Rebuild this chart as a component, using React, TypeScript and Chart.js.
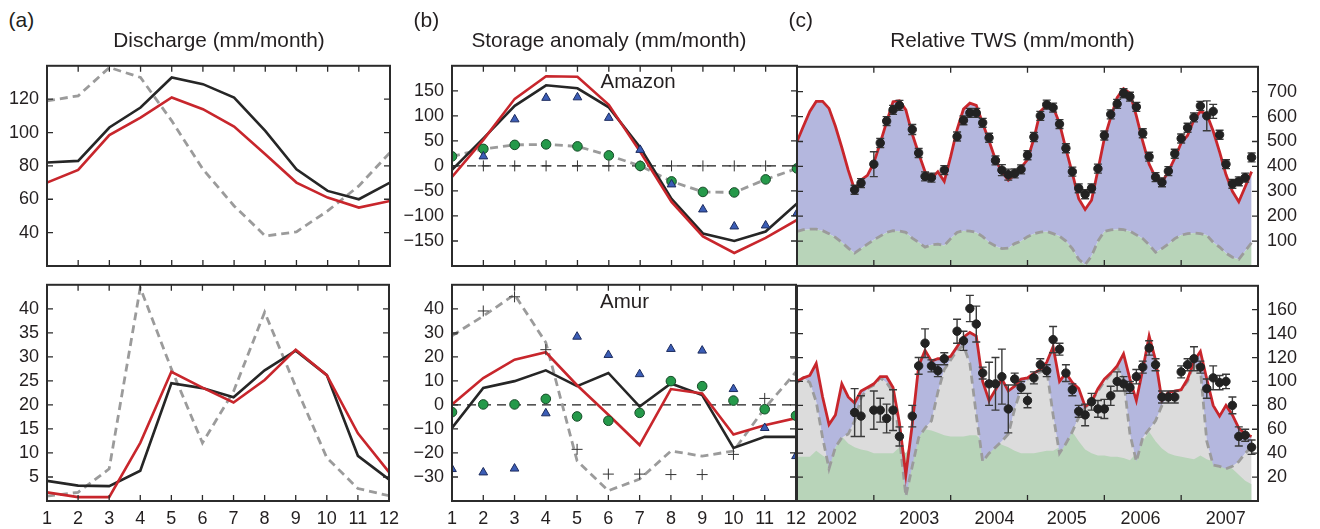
import React, { useEffect, useRef } from 'react';
import { Chart, registerables } from 'chart.js';

Chart.register(...registerables);

const FONT = "'Liberation Sans', Arial, Helvetica, sans-serif";
const TEXT = '#231f20';
const RED = '#c8262c';
const BLACK = '#262626';
const GRAY = '#9b9b9b';
const LAVENDER = '#b4b7de';
const GREEN_FILL = '#b8d4b9';
const LIGHT_GRAY = '#dcdcdc';
const TRI_FILL = '#3b5db6';
const TRI_EDGE = '#1d2c5e';
const CIRC_FILL = '#25994a';
const CIRC_EDGE = '#164a27';

// ---------- (a) Discharge, months 1..12 ----------
const MONTHS = [1, 2, 3, 4, 5, 6, 7, 8, 9, 10, 11, 12];
const AMAZON_Q_BLACK = [82, 83, 103, 115, 133, 129, 121, 101, 78, 65, 60, 70];
const AMAZON_Q_RED = [70, 77.6, 98.5, 109, 121, 114, 103.6, 87, 70, 61, 55, 59];
const AMAZON_Q_DASH = [119, 122, 139, 133, 107, 78, 56, 38, 40.5, 53, 68, 88];
const AMUR_Q_BLACK = [4.2, 3.2, 3.1, 6.3, 24.5, 23.5, 21.6, 27.2, 31.3, 26.2, 9.4, 4.5];
const AMUR_Q_RED = [1.8, 0.8, 0.8, 12.1, 26.9, 23.6, 20.5, 25.2, 31.5, 26.2, 14.1, 6.0];
const AMUR_Q_DASH = [1.0, 1.8, 6.7, 44.4, 27.5, 12.1, 22.8, 39.3, 23.8, 9.0, 2.6, 1.1];

// ---------- (b) Storage anomaly ----------
const AMAZON_S_BLACK = [-8, 55, 120, 161, 155, 117, 37, -66, -135, -150, -131, -75];
const AMAZON_S_RED = [-22, 52, 134, 179, 178, 122, 28, -72, -141, -174, -144, -108];
const AMAZON_S_DASH = [19, 34, 42, 43, 39, 21, 0, -31, -52, -53, -27, -5];
const AMAZON_S_CIRCLE = [19, 34, 42, 43, 39, 21, 0, -31, -52, -53, -27, -5];
const AMAZON_S_TRI = [null, 19, 93, 136, 137, 96, 32, -37, -87, -121, -119, -95];
const AMAZON_S_PLUS = [0, 0, 0, 0, 0, 0, 0, 0, 0, 0, 0, 0];
const AMUR_S_BLACK = [-9.6, 7.1, 9.9, 14.4, 7.8, 13.3, -0.7, 8.9, 4.1, -17.9, -13.3, -13.3];
const AMUR_S_RED = [0.2, 11.2, 18.8, 21.9, 8.2, -4.1, -16.7, 6.6, 4.8, -12.3, -8.5, -5.5];
const AMUR_S_DASH = [28.8, 37, 45.9, 26, -23.3, -35.7, -30.9, -19.2, -21.3, -19.2, -1.4, 13.7];
const AMUR_S_CIRCLE = [-3, 0.2, 0.2, 2.5, -4.8, -6.6, -3.3, 9.9, 7.8, 1.8, -1.8, -4.5];
const AMUR_S_TRI = [-26.7, -28.1, -26.5, -3.5, 28.4, 20.8, 12.8, 23.3, 22.6, 6.6, -9.6, -21.3];
const AMUR_S_PLUS = [29.5, 39.1, 45, 23, -18.5, -28.8, -28.8, -29, -29, -20.6, 2.7, 19.5];
const ZERO_REF = 0;

// ---------- (c) Relative TWS, monthly Jan 2002 .. Dec 2007 ----------
const START_YEAR = 2002;
const YEAR_TICKS = [2002, 2003, 2004, 2005, 2006, 2007, 2008];
const YEAR_LABELS = ['2002', '2003', '2004', '2005', '2006', '2007'];
const YEAR_LABEL_POS = [2002.52, 2003.59, 2004.57, 2005.51, 2006.47, 2007.58];

const AMAZON_TWS_RED = [
  500, 561, 621, 661, 661, 633, 561, 476, 385, 306, 345, 364,
  415, 494, 579, 660, 664, 627, 530, 452, 379, 352, 379, 340,
  439, 548, 630, 654, 645, 573, 502, 427, 379, 345, 367, 395,
  427, 512, 621, 645, 639, 573, 470, 373, 270, 227, 264, 385,
  512, 597, 676, 712, 694, 603, 500, 409, 355, 336, 379, 433,
  494, 524, 587, 621, 609, 542, 458, 367, 300, 258, 318, 379,
];
const AMAZON_TWS_DASH = [
  139, 146, 148, 148, 142, 130, 115, 95, 72, 52, 70, 88,
  105, 120, 135, 142, 140, 135, 112, 95, 76, 85, 88, 82,
  110, 135, 142, 140, 135, 118, 95, 80, 70, 72, 90, 100,
  118, 130, 136, 139, 130, 120, 100, 70, 27, 5, 40, 100,
  139, 145, 148, 146, 140, 125, 110, 85, 55, 70, 88, 110,
  124, 130, 133, 130, 124, 95, 76, 52, 35, 27, 60, 94,
];
const AMAZON_TWS_OBS = [
  null, null, null, null, null, null, null, null, null, 306, 333, null,
  409, 494, 582, 627, 645, null, 548, 454, 360, 355, null, 385,
  null, 520, 585, 615, 615, 575, 515, 424, 385, 367, 372, 388,
  445, 518, 603, 648, 636, 570, 473, 379, 312, 288, 312, 391,
  524, 609, 651, 694, 680, 639, 533, 439, 357, 336, 381, 451,
  512, 555, 597, 643, 603, 621, 527, 409, 330, 340, 355, 436,
];
const AMAZON_TWS_ERR = [
  null, null, null, null, null, null, null, null, null, 18, 18, null,
  50, 18, 18, 18, 20, null, 20, 18, 18, 18, null, 18,
  null, 18, 18, 18, 18, 18, 18, 18, 22, 22, 18, 18,
  18, 18, 18, 18, 18, 18, 18, 18, 18, 18, 18, 18,
  18, 18, 18, 18, 18, 18, 18, 18, 18, 18, 18, 18,
  18, 18, 18, 18, 60, 28, 18, 18, 18, 18, 18, 18,
];

const AMUR_TWS_RED = [
  100, 103, 105, 115, 87, 64, 72, 98, 87, 82, 92, 95,
  98, 104, 104, 95, 65, 22, 64, 113, 126, 117, 119, 119,
  121, 129, 137, 141, 138, 100, 84, 93, 102, 92, 96, 102,
  103, 107, 110, 116, 129, 100, 107, 99, 94, 79, 83, 94,
  102, 107, 113, 123, 102, 84, 110, 138, 118, 84, 91, 92,
  93, 102, 117, 125, 102, 80, 71, 80, 72, 61, 56, 54,
];
const AMUR_TWS_DASH = [
  99, 103, 99, 83, 53, 27, 45, 53, 56, 67, 86, 94,
  97, 103, 99, 91, 53, 4, 29, 53, 61, 67, 91, 110,
  118, 126, 130, 115, 72, 33, 40, 45, 50, 56, 77, 94,
  102, 106, 108, 110, 72, 40, 48, 58, 70, 78, 83, 92,
  100, 106, 112, 102, 56, 33, 53, 60, 67, 80, 88, 92,
  93, 100, 115, 110, 50, 30, 29, 27, 29, 33, 40, 45,
];
const AMUR_TWS_GREEN = [
  37, 37, 37, 42, 38, 35, 45, 54, 48, 45, 43, 42,
  40, 40, 40, 40, 45, 40, 50, 58, 60, 59, 57, 55,
  54, 54, 54, 55, 55, 50, 52, 50, 47, 45, 42, 40,
  40, 40, 41, 42, 42, 45, 52, 58, 50, 43, 40, 38,
  38, 37, 37, 36, 34, 40, 50, 58, 50, 44, 40, 38,
  37, 36, 35, 38, 35, 33, 33, 32, 27, 22, 17, 14,
];
const AMUR_TWS_OBS = [
  null, null, null, null, null, null, null, null, null, 74, 71, null,
  76, 76, 69, 76, 54, null, 71, 113, 132, 113, 109, 119,
  null, 142, 134, 161, 148, 107, 98, 98, 104, 77, 102, 95,
  84, 103, 114, 109, 135, 127, 107, 93, 75, 72, 83, 77,
  77, 88, 100, 98, 95, 104, 112, 128, 114, 87, 87, 87,
  108, 114, 119, 112, 94, 103, 99, 100, 80, 54, 55, 45,
];
const AMUR_TWS_ERR = [
  null, null, null, null, null, null, null, null, null, 20, 17, null,
  16, 10, 12, 17, 8, null, 9, 7, 12, 5, 5, 5,
  null, 10, 8, 11, 15, 5, 18, 22, 23, 20, 5, 5,
  6, 5, 5, 5, 11, 5, 7, 5, 5, 9, 7, 7,
  8, 8, 8, 6, 5, 6, 5, 6, 5, 5, 5, 5,
  5, 5, 10, 5, 8, 10, 6, 6, 7, 8, 5, 6,
];

const TIME = AMAZON_TWS_RED.map((_, i) => START_YEAR + i / 12);

// ---------- helpers ----------
const pts = (xs: number[], ys: (number | null)[]) => xs.map((x, i) => ({ x, y: ys[i] }));

function lineDs(xs: number[], ys: (number | null)[], color: string, order: number, extra: any = {}) {
  return {
    data: pts(xs, ys),
    borderColor: color,
    backgroundColor: color,
    borderWidth: 2.6,
    pointRadius: 0,
    tension: 0,
    fill: false,
    order,
    ...extra,
  };
}
function dashDs(xs: number[], ys: (number | null)[], order: number) {
  return lineDs(xs, ys, GRAY, order, { borderDash: [8, 5], borderWidth: 2.8 });
}
function markerDs(xs: number[], ys: (number | null)[], style: string, fillC: string, edgeC: string, radius: number, order: number) {
  return {
    data: pts(xs, ys),
    showLine: false,
    pointStyle: style,
    pointRadius: radius,
    pointBackgroundColor: fillC,
    pointBorderColor: edgeC,
    pointBorderWidth: 1,
    borderColor: edgeC,
    backgroundColor: fillC,
    fill: false,
    order,
  };
}
function fillDs(xs: number[], ys: (number | null)[], color: string, fill: any, order: number) {
  return {
    data: pts(xs, ys),
    borderWidth: 0,
    borderColor: 'rgba(0,0,0,0)',
    backgroundColor: color,
    pointRadius: 0,
    tension: 0,
    fill,
    order,
  };
}

type ErrSpec = { dsIndex: number; xs: number[]; vals: (number | null)[]; errs: (number | null)[] };

type PanelSpec = {
  key: string;
  left: number;
  top: number;
  width: number;
  height: number;
  yRight?: boolean;
  xLabels?: boolean;
  xMin: number;
  xMax: number;
  xTickVals: number[];
  xLabelPos?: number[];
  xLabelText?: string[];
  yMin: number;
  yMax: number;
  yStep: number;
  yShowMin: number;
  yShowMax: number;
  datasets: any[];
  zeroLine?: boolean;
  err?: ErrSpec;
};

const fmt = (v: number) => (v < 0 ? '\u2212' + Math.abs(v) : String(v));

function buildConfig(p: PanelSpec, mL: number, mR: number, mT: number, mB: number) {
  const tickFont = { family: FONT, size: 18 };
  const TL = 6;
  const plugin = {
    id: 'deco_' + p.key,
    beforeDatasetsDraw(chart: any) {
      if (!p.zeroLine) return;
      const { ctx, chartArea: a, scales } = chart;
      const y0 = scales.y.getPixelForValue(ZERO_REF);
      ctx.save();
      ctx.strokeStyle = '#1e1e1e';
      ctx.lineWidth = 1.3;
      ctx.setLineDash([9, 6]);
      ctx.beginPath();
      ctx.moveTo(a.left, y0);
      ctx.lineTo(a.right, y0);
      ctx.stroke();
      ctx.restore();
    },
    beforeDatasetDraw(chart: any, args: any) {
      const e = p.err;
      if (!e || args.index !== e.dsIndex) return;
      const { ctx, chartArea: a, scales } = chart;
      ctx.save();
      ctx.beginPath();
      ctx.rect(a.left, a.top, a.right - a.left, a.bottom - a.top);
      ctx.clip();
      ctx.strokeStyle = '#3a3a3a';
      ctx.lineWidth = 1.4;
      ctx.beginPath();
      e.vals.forEach((v, i) => {
        const er = e.errs[i];
        if (v == null || er == null) return;
        const px = scales.x.getPixelForValue(e.xs[i]);
        const y1 = scales.y.getPixelForValue(v - er);
        const y2 = scales.y.getPixelForValue(v + er);
        ctx.moveTo(px, y1);
        ctx.lineTo(px, y2);
        ctx.moveTo(px - 4, y1);
        ctx.lineTo(px + 4, y1);
        ctx.moveTo(px - 4, y2);
        ctx.lineTo(px + 4, y2);
      });
      ctx.stroke();
      ctx.restore();
    },
    afterDraw(chart: any) {
      const { ctx, chartArea: a, scales } = chart;
      ctx.save();
      ctx.strokeStyle = '#2b2b2b';
      ctx.lineWidth = 1.3;
      ctx.beginPath();
      for (const v of p.xTickVals) {
        const x = scales.x.getPixelForValue(v);
        ctx.moveTo(x, a.top);
        ctx.lineTo(x, a.top + TL);
        ctx.moveTo(x, a.bottom);
        ctx.lineTo(x, a.bottom - TL);
      }
      for (const t of scales.y.ticks) {
        const y = scales.y.getPixelForValue(t.value);
        ctx.moveTo(a.left, y);
        ctx.lineTo(a.left + TL, y);
        ctx.moveTo(a.right, y);
        ctx.lineTo(a.right - TL, y);
      }
      ctx.stroke();
      ctx.lineWidth = 2;
      ctx.strokeRect(a.left, a.top, a.right - a.left, a.bottom - a.top);
      ctx.restore();
    },
  };

  const xScale: any = {
    type: 'linear',
    min: p.xMin,
    max: p.xMax,
    display: !!p.xLabels,
    grid: { display: false, drawTicks: false },
    border: { display: false },
    ticks: {
      stepSize: 1,
      autoSkip: false,
      maxRotation: 0,
      minRotation: 0,
      padding: 7,
      color: TEXT,
      font: tickFont,
    },
    afterFit: (s: any) => {
      s.height = mB;
    },
  };
  if (p.xLabelPos) {
    xScale.afterBuildTicks = (s: any) => {
      s.ticks = (p.xLabelPos as number[]).map((v) => ({ value: v }));
    };
    xScale.ticks.callback = (_v: any, i: number) => (p.xLabelText as string[])[i];
  }

  return {
    type: 'line',
    data: { datasets: p.datasets },
    options: {
      responsive: false,
      animation: false,
      events: [],
      layout: {
        autoPadding: false,
        padding: {
          left: p.yRight ? mL : 0,
          right: p.yRight ? 0 : mR,
          top: mT,
          bottom: p.xLabels ? 0 : mB,
        },
      },
      plugins: {
        legend: { display: false },
        tooltip: { enabled: false },
        title: { display: false },
      },
      scales: {
        x: xScale,
        y: {
          type: 'linear',
          position: p.yRight ? 'right' : 'left',
          min: p.yMin,
          max: p.yMax,
          grid: { display: false, drawTicks: false },
          border: { display: false },
          ticks: {
            stepSize: p.yStep,
            padding: p.yRight ? 9 : 8,
            color: TEXT,
            font: tickFont,
            callback: (v: number) => (v < p.yShowMin || v > p.yShowMax ? null : fmt(v)),
          },
          afterFit: (s: any) => {
            s.width = p.yRight ? mR : mL;
          },
        },
      },
    },
    plugins: [plugin],
  };
}

function Panel({ spec }: { spec: PanelSpec }) {
  const ref = useRef<HTMLCanvasElement>(null);
  const mL = spec.yRight ? 14 : 60;
  const mR = spec.yRight ? 72 : 16;
  const mT = 14;
  const mB = spec.xLabels ? 34 : 14;
  const cw = spec.width + mL + mR;
  const ch = spec.height + mT + mB;
  useEffect(() => {
    const chart = new Chart(ref.current as HTMLCanvasElement, buildConfig(spec, mL, mR, mT, mB) as any);
    return () => chart.destroy();
  }, []);
  return (
    <canvas
      ref={ref}
      width={cw}
      height={ch}
      style={{ position: 'absolute', left: spec.left - mL, top: spec.top - mT, width: cw, height: ch }}
    />
  );
}

const A_X = { xMin: 1, xMax: 12, xTickVals: MONTHS };
const TOP_Y = 61;
const TOP_H = 219;
const BOT_Y = 280;
const BOT_H = 221;

const PANELS: PanelSpec[] = [
  {
    key: 'aTop', left: 47, top: TOP_Y, width: 343, height: TOP_H, ...A_X,
    yMin: 20, yMax: 140, yStep: 20, yShowMin: 40, yShowMax: 120,
    datasets: [
      dashDs(MONTHS, AMAZON_Q_DASH, 3),
      lineDs(MONTHS, AMAZON_Q_BLACK, BLACK, 2),
      lineDs(MONTHS, AMAZON_Q_RED, RED, 1),
    ],
  },
  {
    key: 'aBot', left: 47, top: BOT_Y, width: 343, height: BOT_H, ...A_X, xLabels: true,
    yMin: 0, yMax: 45, yStep: 5, yShowMin: 5, yShowMax: 40,
    datasets: [
      dashDs(MONTHS, AMUR_Q_DASH, 3),
      lineDs(MONTHS, AMUR_Q_BLACK, BLACK, 2),
      lineDs(MONTHS, AMUR_Q_RED, RED, 1),
    ],
  },
  {
    key: 'bTop', left: 452, top: TOP_Y, width: 345, height: TOP_H, ...A_X, zeroLine: true,
    yMin: -200, yMax: 200, yStep: 50, yShowMin: -150, yShowMax: 150,
    datasets: [
      dashDs(MONTHS, AMAZON_S_DASH, 6),
      lineDs(MONTHS, AMAZON_S_BLACK, BLACK, 5),
      lineDs(MONTHS, AMAZON_S_RED, RED, 4),
      markerDs(MONTHS, AMAZON_S_PLUS, 'cross', '#333', '#333', 5.5, 3),
      markerDs(MONTHS, AMAZON_S_CIRCLE, 'circle', CIRC_FILL, CIRC_EDGE, 4.8, 2),
      markerDs(MONTHS, AMAZON_S_TRI, 'triangle', TRI_FILL, TRI_EDGE, 5, 1),
    ],
  },
  {
    key: 'bBot', left: 452, top: BOT_Y, width: 345, height: BOT_H, ...A_X, xLabels: true, zeroLine: true,
    yMin: -40, yMax: 50, yStep: 10, yShowMin: -30, yShowMax: 40,
    datasets: [
      dashDs(MONTHS, AMUR_S_DASH, 6),
      lineDs(MONTHS, AMUR_S_BLACK, BLACK, 5),
      lineDs(MONTHS, AMUR_S_RED, RED, 4),
      markerDs(MONTHS, AMUR_S_PLUS, 'cross', '#333', '#333', 5.5, 3),
      markerDs(MONTHS, AMUR_S_CIRCLE, 'circle', CIRC_FILL, CIRC_EDGE, 4.8, 2),
      markerDs(MONTHS, AMUR_S_TRI, 'triangle', TRI_FILL, TRI_EDGE, 5, 1),
    ],
  },
  {
    key: 'cTop', left: 797, top: TOP_Y, width: 461, height: TOP_H, yRight: true,
    xMin: 2002, xMax: 2008, xTickVals: YEAR_TICKS,
    yMin: 0, yMax: 800, yStep: 100, yShowMin: 100, yShowMax: 700,
    datasets: [
      fillDs(TIME, AMAZON_TWS_DASH, GREEN_FILL, 'origin', 10),
      fillDs(TIME, AMAZON_TWS_RED, LAVENDER, '-1', 9),
      dashDs(TIME, AMAZON_TWS_DASH, 8),
      lineDs(TIME, AMAZON_TWS_RED, RED, 7, { borderWidth: 2.8 }),
      markerDs(TIME, AMAZON_TWS_OBS, 'circle', '#222', '#222', 4.2, 6),
    ],
    err: { dsIndex: 4, xs: TIME, vals: AMAZON_TWS_OBS, errs: AMAZON_TWS_ERR },
  },
  {
    key: 'cBot', left: 797, top: BOT_Y, width: 461, height: BOT_H, yRight: true, xLabels: true,
    xMin: 2002, xMax: 2008, xTickVals: YEAR_TICKS, xLabelPos: YEAR_LABEL_POS, xLabelText: YEAR_LABELS,
    yMin: 0, yMax: 180, yStep: 20, yShowMin: 20, yShowMax: 160,
    datasets: [
      fillDs(TIME, AMUR_TWS_DASH, LIGHT_GRAY, 'origin', 11),
      fillDs(TIME, AMUR_TWS_GREEN, GREEN_FILL, 'origin', 10),
      fillDs(TIME, AMUR_TWS_RED, LAVENDER, '-2', 9),
      dashDs(TIME, AMUR_TWS_DASH, 8),
      lineDs(TIME, AMUR_TWS_RED, RED, 7, { borderWidth: 2.8 }),
      markerDs(TIME, AMUR_TWS_OBS, 'circle', '#222', '#222', 4.2, 6),
    ],
    err: { dsIndex: 5, xs: TIME, vals: AMUR_TWS_OBS, errs: AMUR_TWS_ERR },
  },
];

type TextSpec = { text: string; x: number; y: number; size: number; center?: boolean };
const TEXTS: TextSpec[] = [
  { text: '(a)', x: 8.5, y: 9, size: 21 },
  { text: '(b)', x: 413.5, y: 9, size: 21 },
  { text: '(c)', x: 788.5, y: 9, size: 21 },
  { text: 'Discharge (mm/month)', x: 219, y: 30, size: 20.8, center: true },
  { text: 'Storage anomaly (mm/month)', x: 609, y: 30, size: 20.8, center: true },
  { text: 'Relative TWS (mm/month)', x: 1012.5, y: 30, size: 20.8, center: true },
  { text: 'Amazon', x: 600.5, y: 70.6, size: 20.5 },
  { text: 'Amur', x: 600, y: 291, size: 20.5 },
];

export default function App() {
  return (
    <div
      style={{
        position: 'absolute',
        left: 0,
        top: 0,
        width: 1320,
        height: 529,
        background: '#fff',
        overflow: 'hidden',
        fontFamily: FONT,
        color: TEXT,
      }}
    >
      {PANELS.map((p) => (
        <Panel key={p.key} spec={p} />
      ))}
      {TEXTS.map((t) => (
        <div
          key={t.text}
          style={{
            position: 'absolute',
            left: t.center ? t.x - 250 : t.x,
            width: t.center ? 500 : undefined,
            top: t.y,
            fontSize: t.size,
            lineHeight: 1,
            whiteSpace: 'nowrap',
            textAlign: t.center ? 'center' : 'left',
          }}
        >
          {t.text}
        </div>
      ))}
    </div>
  );
}
